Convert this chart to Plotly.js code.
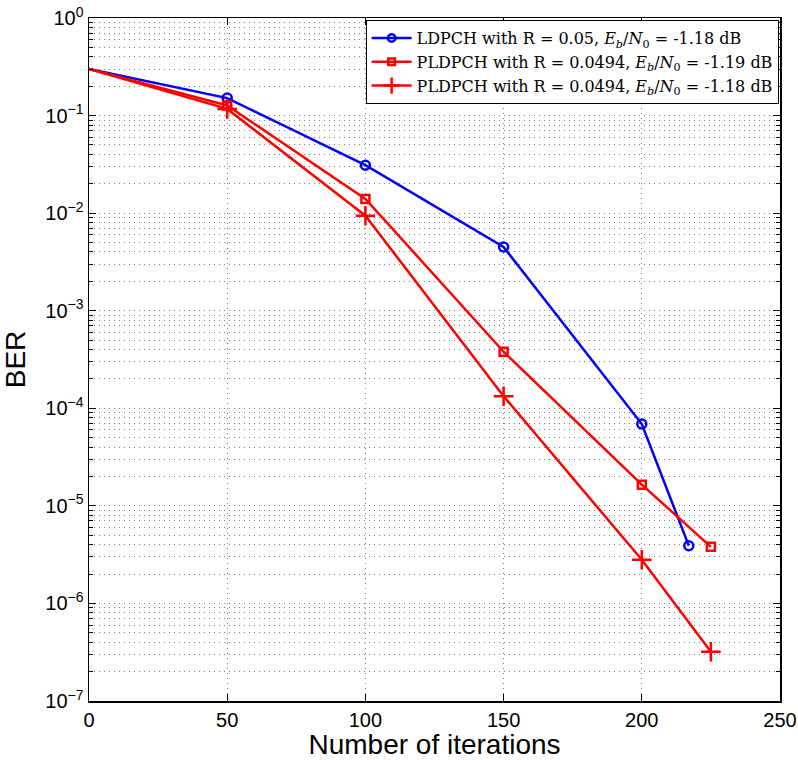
<!DOCTYPE html>
<html>
<head>
<meta charset="utf-8">
<script src="https://cdn.plot.ly/plotly-3.0.1.min.js"></script>
<style>
  html, body { margin: 0; padding: 0; background: #fff; }
  #chart { width: 798px; height: 760px; }
</style>
</head>
<body>
<div id="chart"></div>
<script>
// BER versus decoding iterations
const iterLdpch = [0, 50, 100, 150, 200, 217];
const berLdpch = [0.30, 0.151, 0.031, 0.0045, 6.9e-5, 3.9e-6];

const iterPl119 = [0, 50, 100, 150, 200, 225];
const berPl119 = [0.30, 0.127, 0.014, 3.8e-4, 1.65e-5, 3.8e-6];

const iterPl118 = [0, 50, 100, 150, 200, 225];
const berPl118 = [0.30, 0.117, 0.0094, 1.33e-4, 2.8e-6, 3.2e-7];

const seriesNames = [
  'LDPCH with R = 0.05, <i>E<sub>b</sub></i>/<i>N</i><sub>0</sub> = -1.18 dB',
  'PLDPCH with R = 0.0494, <i>E<sub>b</sub></i>/<i>N</i><sub>0</sub> = -1.19 dB',
  'PLDPCH with R = 0.0494, <i>E<sub>b</sub></i>/<i>N</i><sub>0</sub> = -1.18 dB'
];

const xTicks = [0, 50, 100, 150, 200, 250];
const yExponents = [0, -1, -2, -3, -4, -5, -6, -7];

const decadeVals = yExponents.map(e => Math.pow(10, e));
const decadeText = yExponents.map(e => '10<sup>' + String(e).replace('-', '\u2212') + '</sup>');
const minorVals = [];
yExponents.slice(1).forEach(e => {
  for (let m = 2; m <= 9; m++) minorVals.push(m * Math.pow(10, e));
});

// the first (starting) point of each curve carries no marker
const markerSizes = (n, s) => [0].concat(Array(n - 1).fill(s));

const gridColor = '#808080';
const gridDash = '1px,4px';

const traces = [
  {
    x: iterLdpch, y: berLdpch, name: seriesNames[0],
    mode: 'lines+markers', type: 'scatter',
    line: { color: '#0000ff', width: 2.5 },
    marker: { symbol: 'circle-open', size: markerSizes(iterLdpch.length, 9), opacity: 1,
              color: '#0000ff', line: { width: 2.5 } }
  },
  {
    x: iterPl119, y: berPl119, name: seriesNames[1],
    mode: 'lines+markers', type: 'scatter',
    line: { color: '#ff0000', width: 2.5 },
    marker: { symbol: 'square-open', size: markerSizes(iterPl119.length, 8), opacity: 1,
              color: '#ff0000', line: { width: 2.5 } }
  },
  {
    x: iterPl118, y: berPl118, name: seriesNames[2],
    mode: 'lines+markers', type: 'scatter',
    line: { color: '#ff0000', width: 2.5 },
    marker: { symbol: 'cross-thin-open', size: markerSizes(iterPl118.length, 14), opacity: 1,
              color: '#ff0000', line: { width: 2.5, color: '#ff0000' } }
  }
];

const layout = {
  width: 798, height: 760,
  margin: { l: 89, r: 18, t: 18, b: 59 },
  paper_bgcolor: '#fff', plot_bgcolor: '#fff',
  font: { family: 'Liberation Sans, Arial, sans-serif', color: '#000' },
  showlegend: true,
  legend: {
    x: 0.998, y: 0.997, xanchor: 'right', yanchor: 'top',
    bgcolor: '#fff', bordercolor: '#000', borderwidth: 1,
    font: { family: 'DejaVu Serif, serif', size: 16, color: '#000' },
    tracegroupgap: 0, itemwidth: 40
  },
  xaxis: {
    range: [0, 250], tickmode: 'array', tickvals: xTicks,
    ticks: 'inside', ticklen: 7, tickcolor: '#000', mirror: 'ticks',
    showline: true, linecolor: '#000', linewidth: 1.5,
    showgrid: true, gridcolor: gridColor, griddash: gridDash, gridwidth: 1,
    zeroline: false,
    tickfont: { size: 20 },
    title: { text: 'Number of iterations', font: { size: 28 }, standoff: 12 }
  },
  yaxis: {
    type: 'log', range: [-7, 0],
    tickmode: 'array', tickvals: decadeVals, ticktext: decadeText,
    ticks: 'inside', ticklen: 7, tickcolor: '#000', mirror: 'ticks',
    showline: true, linecolor: '#000', linewidth: 1.5,
    showgrid: true, gridcolor: gridColor, griddash: gridDash, gridwidth: 1,
    zeroline: false,
    tickfont: { size: 20 },
    minor: {
      tickmode: 'array', tickvals: minorVals,
      ticks: 'inside', ticklen: 4, tickcolor: '#000',
      showgrid: true, gridcolor: gridColor, griddash: gridDash, gridwidth: 1
    },
    title: { text: 'BER', font: { size: 28 }, standoff: 14 }
  }
};

Plotly.newPlot('chart', traces, layout, { displayModeBar: false, staticPlot: true });
</script>
</body>
</html>
